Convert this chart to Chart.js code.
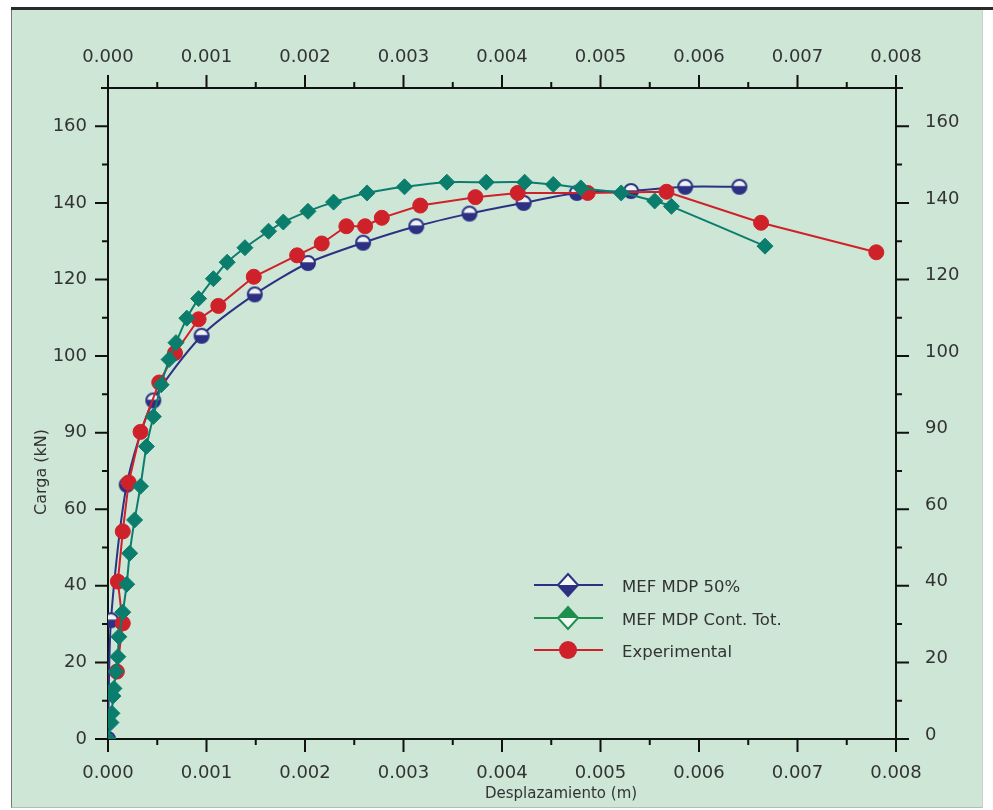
<!DOCTYPE html>
<html>
<head>
<meta charset="utf-8">
<script src="https://cdn.jsdelivr.net/npm/chart.js@4.4.1/dist/chart.umd.min.js"></script>
<style>
  html, body { margin: 0; padding: 0; background: #fff; }
  body { width: 993px; height: 810px; position: relative; overflow: hidden; }
  #topbar { position: absolute; left: 11px; top: 7px; width: 982px; height: 3px; background: #2b2b2b; }
  #panel { position: absolute; left: 11px; top: 10px; width: 970px; height: 797px;
           background: #cde6d6; border-left: 1px solid #777; border-right: 1px solid #c9d2cc; border-bottom: 1px solid #b5bdb8; }
  #chart { position: absolute; left: 0; top: 0; }
</style>
</head>
<body>
<div id="topbar"></div>
<div id="panel"></div>
<canvas id="chart" width="993" height="810"></canvas>
<script>
// ticks
const xTickValues = [0, 0.001, 0.002, 0.003, 0.004, 0.005, 0.006, 0.007, 0.008];
const xTickLabels = ['0.000', '0.001', '0.002', '0.003', '0.004', '0.005', '0.006', '0.007', '0.008'];
const yTickValues = [0, 20, 40, 60, 80, 100, 120, 140, 160];
const yTickLabels = ['0', '20', '40', '60', '90', '100', '120', '140', '160'];

// MEF MDP 50%
const mdp50X = [0, 0.00003, 0.00019, 0.00046, 0.00095, 0.00149, 0.00203, 0.00259, 0.00313, 0.00367, 0.00422, 0.00476, 0.00531, 0.00586, 0.00641];
const mdp50Y = [0, 31.0, 66.4, 88.4, 105.3, 116.1, 124.3, 129.6, 133.9, 137.2, 140.0, 142.6, 143.1, 144.2, 144.2];

// MEF MDP Cont. Tot.
const contTotX = [0, 0.00003, 0.00004, 0.00005, 0.00006, 0.00008, 0.0001, 0.00011, 0.00015, 0.00019, 0.00022, 0.00027, 0.00033, 0.00039, 0.00046, 0.00054, 0.00062, 0.00069, 0.0008, 0.00092, 0.00107, 0.00121, 0.00139, 0.00163, 0.00178, 0.00203, 0.00229, 0.00263, 0.00301, 0.00344, 0.00384, 0.00423, 0.00452, 0.0048, 0.00521, 0.00555, 0.00572, 0.00667];
const contTotY = [0, 4.3, 6.7, 11.2, 13.2, 17.6, 21.5, 26.7, 33.1, 40.4, 48.5, 57.2, 66.0, 76.4, 84.2, 92.5, 99.1, 103.5, 109.9, 115.0, 120.2, 124.5, 128.3, 132.6, 135.0, 137.8, 140.2, 142.6, 144.2, 145.4, 145.4, 145.4, 144.8, 143.9, 142.6, 140.5, 139.1, 128.7];

// Experimental
const expX = [0.00009, 0.00015, 0.0001, 0.00015, 0.00021, 0.00033, 0.00052, 0.00068, 0.00092, 0.00112, 0.00148, 0.00192, 0.00217, 0.00242, 0.00261, 0.00278, 0.00317, 0.00373, 0.00416, 0.00487, 0.00567, 0.00663, 0.0078];
const expY = [17.6, 30.2, 41.1, 54.2, 67.0, 80.2, 93.1, 100.8, 109.6, 113.1, 120.7, 126.3, 129.4, 133.9, 133.9, 136.1, 139.3, 141.5, 142.6, 142.6, 142.9, 134.8, 127.1];

const NAVY = '#2c3184';
const TEAL = '#0b7d6d';
const GREEN = '#1e8f4e';
const RED = '#cf2129';
const TEXT = '#333333';
const FONT = '"DejaVu Sans", sans-serif';

function pts(xs, ys) {
    return xs.map((x, i) => ({ x: x, y: ys[i] }));
}

// half filled circle for MEF MDP 50%
function halfCircle() {
    const c = document.createElement('canvas');
    c.width = 18; c.height = 18;
    const g = c.getContext('2d');
    g.fillStyle = '#eef3f1';
    g.beginPath(); g.arc(9, 9, 7, 0, Math.PI * 2); g.fill();
    g.fillStyle = NAVY;
    g.beginPath(); g.arc(9, 9, 7, -0.1, Math.PI + 0.1); g.closePath(); g.fill();
    g.strokeStyle = NAVY; g.lineWidth = 2;
    g.beginPath(); g.arc(9, 9, 7, 0, Math.PI * 2); g.stroke();
    return c;
}

// legend diamond, one half filled
function halfDiamond(ctx, x, y, color, fillTop) {
    const w = 10, h = 11;
    ctx.save();
    ctx.fillStyle = '#f4f8f5';
    ctx.beginPath();
    ctx.moveTo(x, y - h); ctx.lineTo(x + w, y); ctx.lineTo(x, y + h); ctx.lineTo(x - w, y); ctx.closePath();
    ctx.fill();
    ctx.fillStyle = color;
    ctx.beginPath();
    if (fillTop) {
        ctx.moveTo(x - w, y); ctx.lineTo(x, y - h); ctx.lineTo(x + w, y);
    } else {
        ctx.moveTo(x - w, y); ctx.lineTo(x, y + h); ctx.lineTo(x + w, y);
    }
    ctx.closePath(); ctx.fill();
    ctx.strokeStyle = color; ctx.lineWidth = 2;
    ctx.beginPath();
    ctx.moveTo(x, y - h); ctx.lineTo(x + w, y); ctx.lineTo(x, y + h); ctx.lineTo(x - w, y); ctx.closePath();
    ctx.stroke();
    ctx.restore();
}

const axisFrame = {
    id: 'axisFrame',
    beforeDatasetsDraw(chart) {
        const { ctx, chartArea: a, scales } = chart;
        ctx.save();
        ctx.strokeStyle = '#111';
        ctx.lineWidth = 2;
        ctx.beginPath();
        ctx.moveTo(a.left - 7, a.top); ctx.lineTo(a.right + 7, a.top);
        ctx.moveTo(a.left - 8, a.bottom); ctx.lineTo(a.right + 13, a.bottom);
        ctx.moveTo(a.left, a.top); ctx.lineTo(a.left, a.bottom);
        ctx.moveTo(a.right, a.top); ctx.lineTo(a.right, a.bottom);
        ctx.stroke();

        // major ticks on labels, minor ticks half way
        const marks = (scale, edge, dir, horizontal) => {
            const vals = scale.ticks.map(t => t.value);
            ctx.beginPath();
            vals.forEach((v, i) => {
                const lens = [[v, 13]];
                if (i < vals.length - 1) lens.push([(v + vals[i + 1]) / 2, 6]);
                lens.forEach(([val, len]) => {
                    const q = scale.getPixelForValue(val);
                    if (horizontal) { ctx.moveTo(q, edge); ctx.lineTo(q, edge + dir * len); }
                    else { ctx.moveTo(edge, q); ctx.lineTo(edge + dir * len, q); }
                });
            });
            ctx.stroke();
        };
        marks(scales.x2, a.top, -1, true);
        marks(scales.x, a.bottom, 1, true);
        marks(scales.y, a.left, -1, false);
        marks(scales.y2, a.right, 1, false);
        ctx.restore();
    },
    afterDraw(chart) {
        const { ctx } = chart;
        ctx.save();
        ctx.fillStyle = TEXT;
        ctx.textAlign = 'center';
        ctx.textBaseline = 'middle';
        ctx.font = '15px ' + FONT;
        ctx.fillText('Desplazamiento (m)', 561, 794);
        ctx.font = '16px ' + FONT;
        ctx.translate(42, 472);
        ctx.rotate(-Math.PI / 2);
        ctx.fillText('Carga (kN)', 0, 0);
        ctx.restore();

        // legend
        const rows = [
            { label: 'MEF MDP 50%', color: NAVY, y: 585 },
            { label: 'MEF MDP Cont. Tot.', color: GREEN, y: 618 },
            { label: 'Experimental', color: RED, y: 650 }
        ];
        ctx.save();
        rows.forEach((r, i) => {
            ctx.strokeStyle = r.color;
            ctx.lineWidth = 2;
            ctx.beginPath(); ctx.moveTo(534, r.y); ctx.lineTo(603, r.y); ctx.stroke();
            if (i === 0) halfDiamond(ctx, 568, r.y, r.color, false);
            else if (i === 1) halfDiamond(ctx, 568, r.y, r.color, true);
            else {
                ctx.fillStyle = r.color;
                ctx.beginPath(); ctx.arc(568, r.y, 9, 0, Math.PI * 2); ctx.fill();
            }
            ctx.fillStyle = TEXT;
            ctx.font = '16.5px ' + FONT;
            ctx.textAlign = 'left';
            ctx.textBaseline = 'middle';
            ctx.fillText(r.label, 622, r.y + 3);
        });
        ctx.restore();
    }
};

const tickFont = { family: FONT, size: 18 };

new Chart(document.getElementById('chart'), {
    type: 'scatter',
    data: {
        datasets: [{
            label: 'MEF MDP 50%',
            data: pts(mdp50X, mdp50Y),
            showLine: true,
            borderColor: NAVY,
            borderWidth: 2,
            tension: 0.25,
            pointStyle: halfCircle(),
            order: 2
        }, {
            label: 'MEF MDP Cont. Tot.',
            data: pts(contTotX, contTotY),
            showLine: true,
            borderColor: TEAL,
            backgroundColor: TEAL,
            borderWidth: 2,
            tension: 0.2,
            pointStyle: 'rectRot',
            pointRadius: 8,
            pointBorderWidth: 1,
            order: 0
        }, {
            label: 'Experimental',
            data: pts(expX, expY),
            showLine: true,
            borderColor: RED,
            backgroundColor: RED,
            borderWidth: 2,
            tension: 0,
            pointStyle: 'circle',
            pointRadius: 7.5,
            pointBorderWidth: 1,
            order: 1
        }]
    },
    options: {
        responsive: false,
        animation: false,
        devicePixelRatio: 1,
        layout: { padding: 0 },
        plugins: {
            legend: { display: false },
            tooltip: { enabled: false }
        },
        scales: {
            x: {
                type: 'linear', position: 'bottom', min: 0, max: 0.008,
                grid: { display: false, drawTicks: false },
                border: { display: false },
                afterBuildTicks: s => { s.ticks = xTickValues.map(v => ({ value: v })); },
                afterFit: s => { s.height = 71; },
                ticks: { padding: 24, color: TEXT, font: tickFont, maxRotation: 0, callback: (v, i) => xTickLabels[i] }
            },
            x2: {
                type: 'linear', position: 'top', min: 0, max: 0.008,
                grid: { display: false, drawTicks: false },
                border: { display: false },
                afterBuildTicks: s => { s.ticks = xTickValues.map(v => ({ value: v })); },
                afterFit: s => { s.height = 88; },
                ticks: { padding: 20, color: TEXT, font: tickFont, maxRotation: 0, callback: (v, i) => xTickLabels[i] }
            },
            y: {
                type: 'linear', position: 'left', min: 0, max: 170,
                grid: { display: false, drawTicks: false },
                border: { display: false },
                afterBuildTicks: s => { s.ticks = yTickValues.map(v => ({ value: v })); },
                afterFit: s => { s.width = 108; },
                ticks: { padding: 21, color: TEXT, font: tickFont, callback: (v, i) => yTickLabels[i] }
            },
            y2: {
                type: 'linear', position: 'right', min: 0, max: 170,
                grid: { display: false, drawTicks: false },
                border: { display: false },
                afterBuildTicks: s => { s.ticks = yTickValues.map(v => ({ value: v })); },
                afterFit: s => { s.width = 97; },
                ticks: { padding: 29, labelOffset: -4, color: TEXT, font: tickFont, callback: (v, i) => yTickLabels[i] }
            }
        }
    },
    plugins: [axisFrame]
});
</script>
</body>
</html>
